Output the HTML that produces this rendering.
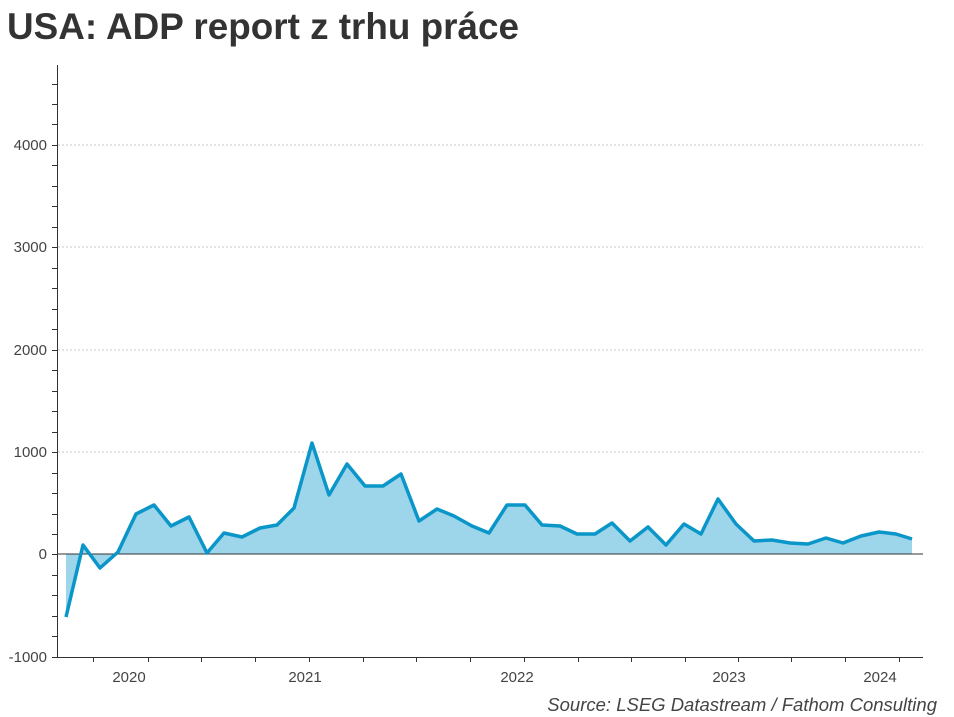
<!DOCTYPE html>
<html><head><meta charset="utf-8"><style>
body{margin:0;background:#fff;width:954px;height:717px;overflow:hidden}
svg{display:block;font-family:"Liberation Sans",Arial,sans-serif}
</style></head><body>
<svg width="954" height="717" viewBox="0 0 954 717">
<text x="7" y="39" font-size="37" font-weight="bold" fill="#333" textLength="512" lengthAdjust="spacingAndGlyphs">USA: ADP report z trhu práce</text>
<g stroke="#c8c8c8" stroke-dasharray="2,2" stroke-width="1">
<line x1="58" x2="923" y1="145" y2="145"/><line x1="58" x2="923" y1="247" y2="247"/><line x1="58" x2="923" y1="350" y2="350"/><line x1="58" x2="923" y1="452" y2="452"/>
</g>
<g font-size="15" fill="#444" text-anchor="end">
<text x="47" y="150">4000</text><text x="47" y="252">3000</text><text x="47" y="355">2000</text><text x="47" y="457">1000</text><text x="47" y="559">0</text><text x="47" y="662">-1000</text>
</g>
<polygon fill="#9dd5ea" points="66,554 66,617 83,545 100,568 118,552 136,514 154,505 171,526 189,517 207,553 224,533 242,537 260,528 277,525 294,508 312,443 329,495 347,464 365,486 383,486 401,474 419,521 437,509 454,516 472,526 489,533 507,505 525,505 542,525 560,526 577,534 595,534 612,523 630,541 648,527 666,545 684,524 701,534 718,499 736,524 754,541 772,540 790,543 808,544 826,538 843,543 861,536 879,532 896,534 912,539 912,554"/>
<line x1="58" x2="923" y1="554" y2="554" stroke="#333" stroke-width="1"/>
<polyline fill="none" stroke="#0a96c8" stroke-width="3.5" stroke-linejoin="round" points="66,617 83,545 100,568 118,552 136,514 154,505 171,526 189,517 207,553 224,533 242,537 260,528 277,525 294,508 312,443 329,495 347,464 365,486 383,486 401,474 419,521 437,509 454,516 472,526 489,533 507,505 525,505 542,525 560,526 577,534 595,534 612,523 630,541 648,527 666,545 684,524 701,534 718,499 736,524 754,541 772,540 790,543 808,544 826,538 843,543 861,536 879,532 896,534 912,539"/>
<g stroke="#333" stroke-width="1">
<line x1="57.5" x2="57.5" y1="65" y2="657"/>
<line x1="57" x2="923" y1="657.5" y2="657.5"/>
<path d="M52 84.5h5M52 104.5h5M52 124.5h5M52 145.5h5M52 165.5h5M52 186.5h5M52 206.5h5M52 227.5h5M52 247.5h5M52 268.5h5M52 288.5h5M52 309.5h5M52 329.5h5M52 350.5h5M52 370.5h5M52 391.5h5M52 411.5h5M52 432.5h5M52 452.5h5M52 473.5h5M52 493.5h5M52 514.5h5M52 534.5h5M52 554.5h5M52 575.5h5M52 595.5h5M52 616.5h5M52 636.5h5M52 657.5h5"/>
<path d="M93.5 657v5M148.5 657v5M201.5 657v5M255.5 657v5M309.5 657v5M363.5 657v5M416.5 657v5M470.5 657v5M524.5 657v5M578.5 657v5M631.5 657v5M685.5 657v5M738.5 657v5M791.5 657v5M845.5 657v5M899.5 657v5"/>
</g>
<g font-size="15" fill="#444" text-anchor="middle">
<text x="129" y="682">2020</text><text x="305" y="682">2021</text><text x="517" y="682">2022</text><text x="729" y="682">2023</text><text x="880" y="682">2024</text>
</g>
<text x="937" y="711" font-size="18.5" font-style="italic" fill="#444" text-anchor="end">Source: LSEG Datastream / Fathom Consulting</text>
</svg>
</body></html>
